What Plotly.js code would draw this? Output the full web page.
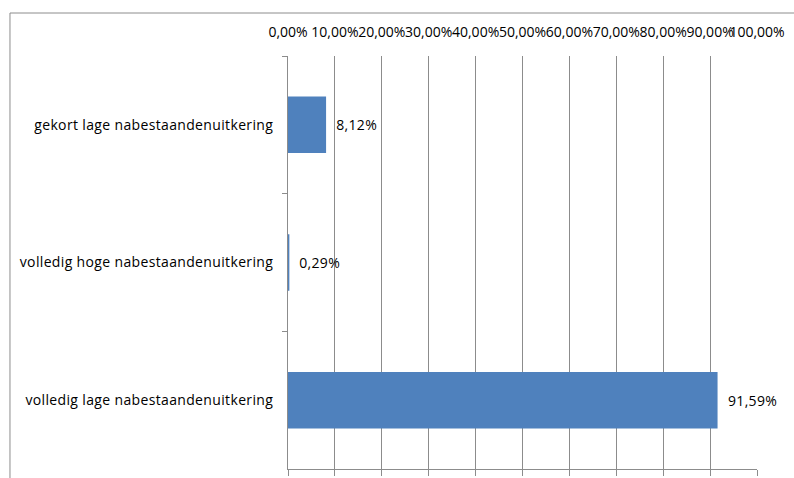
<!DOCTYPE html>
<html><head><meta charset="utf-8">
<script src="https://cdn.plot.ly/plotly-3.0.1.min.js"></script>
<style>body{margin:0;background:#fff}#c{width:794px;height:478px}
#c .ytick text, #c .annotation-text{letter-spacing:0.35px}</style>
</head><body><div id="c"></div>
<script>
const categories = ["gekort lage nabestaandenuitkering", "volledig hoge nabestaandenuitkering", "volledig lage nabestaandenuitkering"];
const values = [0.0812, 0.0029, 0.9159];
const tickValues = [0,0.1,0.2,0.3,0.4,0.5,0.6,0.7,0.8,0.9,1.0];

const FONT = "'Open Sans', sans-serif";
const GRID = "#8c8c8c";

const trace = {
  type: "bar", orientation: "h",
  x: values, y: categories,
  marker: {color: "#4f81bd"},
  xaxis: "x", yaxis: "y",
  hoverinfo: "none"
};
const ghost = {
  type: "scatter", mode: "markers", x: [0, 1], y: [categories[0], categories[0]],
  xaxis: "x2", yaxis: "y", marker: {opacity: 0}, hoverinfo: "none", showlegend: false
};

const annotations = values.map((v, i) => ({
  x: v, y: categories[i], xref: "x", yref: "y",
  text: (v * 100).toFixed(2).replace(".", ",") + "%",
  showarrow: false, xanchor: "left", xshift: 9,
  font: {family: FONT, size: 14, color: "#000"}
}));

const layout = {
  width: 794, height: 478,
  margin: {l: 288, r: 37, t: 56, b: 9, pad: 0},
  separators: ",.",
  showlegend: false,
  bargap: 0.59,
  paper_bgcolor: "#fff", plot_bgcolor: "#fff",
  font: {family: FONT, size: 14, color: "#000"},
  xaxis: {
    range: [0, 1], tickvals: tickValues, showticklabels: false,
    showgrid: true, gridcolor: GRID, gridwidth: 1,
    showline: true, linecolor: GRID, linewidth: 1,
    ticks: "outside", ticklen: 6, tickcolor: GRID,
    zeroline: false, fixedrange: true
  },
  xaxis2: {
    overlaying: "x", side: "top", range: [0, 1], tickvals: tickValues,
    tickformat: ".2%", tickangle: 0, showgrid: false, zeroline: false, showline: false,
    ticks: "outside", ticklen: 12, tickcolor: "rgba(0,0,0,0)",
    tickfont: {family: FONT, size: 14, color: "#000"}, fixedrange: true
  },
  yaxis: {
    type: "category", autorange: "reversed",
    showline: true, linecolor: GRID, linewidth: 1,
    ticks: "outside", ticklen: 5, tickcolor: GRID, tickson: "boundaries",
    showgrid: false, zeroline: false,
    ticklabelstandoff: 11,
    tickfont: {family: FONT, size: 14, color: "#000"}, fixedrange: true
  },
  shapes: [
    {type: "line", xref: "paper", yref: "paper", x0: -0.5928, x1: 1.1, y0: 1.1041, y1: 1.1041, line: {color: GRID, width: 1}},
    {type: "line", xref: "paper", yref: "paper", x0: -0.5928, x1: -0.5928, y0: 1.1041, y1: -0.05, line: {color: GRID, width: 1}}
  ],
  annotations: annotations
};

Plotly.newPlot("c", [trace, ghost], layout, {displayModeBar: false, staticPlot: true});
</script></body></html>
